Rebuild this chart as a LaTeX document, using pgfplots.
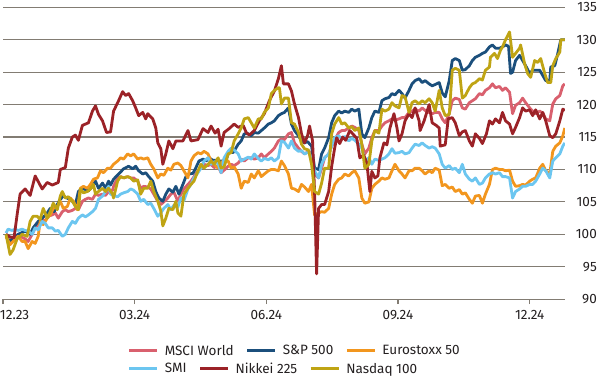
\documentclass[border=0pt]{standalone}
\usepackage{pgfplots}
\pgfplotsset{compat=1.18}
\usepackage{fontspec}
\setmainfont{Fira Sans}
\definecolor{cMSCI}{HTML}{D9606E}
\definecolor{cSP}{HTML}{1B4F7C}
\definecolor{cEuro}{HTML}{F2961E}
\definecolor{cSMI}{HTML}{6CC6F0}
\definecolor{cNik}{HTML}{9B2227}
\definecolor{cNas}{HTML}{BFA414}
\definecolor{gridc}{HTML}{827C73}
\definecolor{txt}{HTML}{231F20}
\pgfplotsset{
  legrow/.style={
    scale only axis, width=559bp, height=290.4bp, hide axis,
    xmin=3, xmax=562, ymin=90, ymax=135,
    legend columns=-1, legend cell align=left,
    legend image code/.code={\draw[##1, line width=2.8bp] (0bp,0bp) -- (28bp,0bp);},
    legend style={draw=none, fill=none, inner sep=0pt, text=txt,
      font=\fontsize{13.5}{16}\selectfont,
      /tikz/every odd column/.append style={column sep=6bp},
      /tikz/every even column/.append style={column sep=12bp},
      nodes={inner sep=0pt}},
  },
  ser/.style={line width=2.8bp, no markers, line join=round},
}
\begin{document}
\begin{tikzpicture}
\begin{axis}[name=main,
 scale only axis, width=559bp, height=290.4bp,
 xmin=3, xmax=562, ymin=90, ymax=135,
 axis line style={draw=none},
 ymajorgrids, grid style={gridc, line width=1.1bp},
 ytick={90,95,...,135},
 yticklabel pos=right,
 ytick style={draw=none},
 yticklabel style={anchor=east, xshift=27bp, inner sep=0pt},
 xtick={3,134,265,396,527},
 xticklabels={{\makebox[0pt][l]{\hspace*{-3bp}12.23}},03.24,06.24,09.24,12.24},
 xtick pos=bottom, tick align=outside, major tick length=5bp,
 xtick style={gridc, line width=1.1bp},
 xticklabel style={inner sep=0pt, yshift=-6bp},
 ticklabel style={font=\fontsize{13.5}{16}\selectfont, text=txt},
 /pgf/number format/assume math mode=true,
]
% MSCI World
\addplot[ser, cMSCI] coordinates {(6,99.6)(10,98.9)(15,99.3)(20,99.7)(25,99.3)(28,98.9)(32,100)(35,101)(38,101.5)(42,102.3)(45,102.1)(48,102.8)(52,103)(55,103.3)(58,102.5)(62,103.5)(65,103.8)(68,103.5)(72,103.7)(75,104)(78,103.8)(82,105.1)(85,105.4)(88,105.6)(92,105.4)(95,106.2)(98,106)(102,106.2)(105,106)(108,106.6)(112,106.8)(113,107.4)(117,108.7)(120,108.9)(123,108.7)(127,108.9)(130,108.7)(133,108.7)(137,108.2)(140,107.1)(143,107.4)(147,107.3)(150,107)(153,106.2)(157,105.1)(160,104.6)(163,105)(167,105.6)(170,106.2)(173,106.5)(177,105.1)(180,106.2)(183,107)(187,107.7)(190,108.2)(193,108.9)(197,109.8)(200,110.2)(203,110.8)(207,110.6)(210,110.8)(213,110.3)(217,110.5)(220,109.5)(223,109.9)(227,110.5)(230,110.8)(233,110.6)(237,111)(240,111.6)(243,111.3)(247,111.8)(250,111.8)(253,111.6)(257,111.8)(260,112.4)(263,111.8)(267,112.4)(270,112.8)(273,113.3)(277,114.4)(280,114.7)(283,114.6)(287,115.5)(290,115.7)(293,114.1)(297,113.3)(300,112.8)(303,112.4)(307,112.8)(310,112.4)(313,109.3)(317,108.7)(320,110.2)(323,111.8)(327,112.4)(330,113.6)(333,114.5)(337,115.7)(340,116)(343,116)(347,116.4)(350,116.7)(353,116.5)(357,116)(360,113.9)(363,112.4)(367,113.3)(370,114.9)(373,116)(377,116)(380,116.7)(383,117.2)(387,117.5)(390,117.8)(393,117.6)(397,117.8)(400,118)(403,118)(407,118.8)(410,119)(413,119.3)(417,119)(420,119.5)(423,119.1)(427,118.8)(430,118.6)(433,118.8)(437,118.8)(440,117.8)(443,117.2)(447,118.6)(450,120.6)(453,121)(457,120.8)(460,119.5)(463,119.3)(467,120.3)(470,120.6)(473,120.9)(477,121.7)(480,121.5)(483,122.2)(487,122.6)(490,123.2)(493,122.6)(497,122.8)(500,122.2)(503,122.6)(507,121.9)(510,118.6)(513,119.9)(517,120.3)(520,121)(523,120.3)(527,119.5)(530,119)(533,118.6)(537,119)(540,118.7)(543,117.8)(547,117.5)(550,120.1)(553,120.9)(557,121.4)(560,122.9)(562,123.2)};
% S&P 500
\addplot[ser, cSP] coordinates {(6,100)(9,98.9)(12,99.3)(18,100)(25,100.5)(30,100)(33,101)(38,102)(42,102.5)(47,103.3)(50,104)(54,103.5)(57,104.6)(60,105.4)(63,105.9)(68,105.5)(72,105.1)(75,104.6)(78,106.6)(82,107.1)(85,106.9)(88,106.7)(92,107.4)(95,108.2)(98,107.1)(102,107.9)(105,107.1)(108,108.2)(110,107.6)(113,108.5)(118,109.3)(123,110.1)(128,110.5)(132,110.1)(135,110.5)(138,109.8)(142,109.3)(145,109.5)(148,108.9)(152,108.2)(155,106.6)(158,105.6)(162,105.1)(165,106.2)(168,107)(172,106.5)(175,107.4)(178,106.2)(182,107.7)(185,108.9)(188,109.3)(192,109.4)(195,110.3)(198,111.3)(202,111.6)(205,111.3)(208,111.8)(212,111.4)(215,111.4)(218,111.3)(222,111.3)(225,111.5)(228,112.8)(232,112.6)(237,113.9)(240,114.4)(243,115.5)(247,115.5)(250,115.2)(253,115.7)(257,115.6)(260,116)(263,116.4)(267,117)(270,117.2)(273,117.5)(277,118.3)(280,118.6)(283,118.8)(287,119.5)(290,117)(293,116)(297,115.2)(300,114.4)(303,114.1)(306,114.3)(310,113.6)(313,110.2)(317,110)(320,112.4)(323,113.3)(327,114.9)(330,117.2)(333,118.3)(337,119)(340,118.7)(343,119)(347,118.8)(350,119.3)(353,119)(357,119.3)(360,115.5)(363,114.9)(367,116.4)(370,118)(373,119)(377,118.8)(380,120.6)(383,120.9)(387,121.1)(390,121.7)(393,121.5)(397,122.2)(400,121.7)(403,121)(407,122.2)(410,123.2)(413,123.7)(417,124)(420,123.4)(423,123.7)(427,123.2)(430,122.9)(433,123.1)(437,123.4)(440,121.8)(443,121.2)(447,123.7)(450,126.8)(453,127.1)(457,126.8)(460,125.3)(463,125.4)(467,126)(470,126.8)(473,127.3)(477,127.6)(480,127.9)(483,128.1)(487,128.9)(490,129.2)(493,128.7)(497,128.7)(500,128.9)(503,129.2)(506,129)(508,124.8)(510,125)(513,126.8)(517,127.6)(520,126.8)(523,126)(527,124.8)(530,125.3)(533,125.3)(537,125.3)(540,124.5)(543,123.7)(547,123.7)(548,125.8)(552,126)(555,127.9)(558,130)(562,130)};
% Eurostoxx 50
\addplot[ser, cEuro] coordinates {(6,99.7)(10,98.4)(13,98.9)(18,99.7)(22,98.9)(25,98.9)(28,97.8)(32,98.9)(35,98.6)(38,99.7)(40,102)(43,101.5)(47,102.5)(50,103)(53,104)(57,104.3)(60,105.1)(63,104)(67,104.3)(70,105.6)(73,105.1)(77,103.8)(80,107.1)(83,107.4)(87,107.1)(90,107.7)(93,108.5)(97,108.7)(100,109.8)(103,109.5)(107,110.2)(110,110.2)(113,110.8)(117,111.3)(120,111.8)(123,111.6)(127,112.4)(130,112.1)(133,112.4)(137,111.6)(140,111.8)(143,111.6)(147,111.8)(150,110.8)(153,110.1)(157,108.7)(160,109.3)(163,109.1)(167,110.2)(170,109.9)(173,110.8)(177,111)(180,110.6)(183,109.8)(187,108.7)(190,111.3)(193,112.1)(197,112.6)(200,112.4)(203,112.8)(207,112.4)(210,111.3)(213,110.8)(217,110.2)(220,110.9)(223,111.6)(227,111.3)(230,110.2)(233,110.4)(237,109.3)(240,107.1)(243,108.2)(247,108)(250,109.3)(253,108.7)(257,109.8)(260,108.9)(263,109.3)(267,109.8)(270,110)(273,110)(277,109.8)(280,111.3)(283,110.6)(287,109.3)(290,107.1)(293,107)(297,106.6)(300,107.7)(303,107.3)(307,106.6)(310,107.7)(313,103)(317,103.3)(320,103.5)(323,103.4)(327,104)(330,106.2)(333,107.7)(337,108.5)(340,108.7)(343,109.3)(347,109)(350,109.5)(353,109.8)(357,108.7)(360,105.6)(363,104.8)(367,105)(370,107.1)(373,107.7)(377,108.2)(380,108.7)(383,108.5)(387,108.7)(390,109.8)(393,110.8)(397,109.8)(400,109.3)(403,108.7)(407,109.8)(410,109.8)(413,110.2)(417,110.2)(420,109.8)(423,109.3)(427,109.8)(430,109.5)(433,110.2)(437,109.9)(440,107.5)(443,107.7)(447,107.1)(450,107.3)(453,106.6)(457,106.9)(460,106.2)(463,106.4)(467,105.4)(470,104.8)(473,105.9)(477,106)(480,104.8)(483,106.2)(487,107.7)(490,110)(493,110.2)(497,110)(500,110)(503,109.8)(507,109.9)(510,108.2)(513,107.4)(517,107.5)(520,107.7)(523,107.6)(527,108.2)(530,108.5)(533,108.7)(537,110.2)(540,110.8)(543,109.8)(547,109.3)(550,112.8)(553,113.6)(557,114.1)(560,115.2)(562,116.4)};
% SMI
\addplot[ser, cSMI] coordinates {(6,100.2)(8,100.8)(12,100.6)(15,100.8)(18,100.6)(22,100.8)(25,100.6)(28,100.5)(32,100)(35,101)(38,100.7)(42,102)(45,101.7)(48,101)(52,101)(55,100.5)(58,100.6)(62,99.7)(65,100)(68,101)(72,102)(75,101.7)(78,102.5)(82,103)(85,102.7)(88,103)(92,103.5)(95,104)(98,105.4)(102,105.9)(105,106.6)(108,107.4)(110,106.2)(113,106)(117,105.8)(120,106.2)(123,106.4)(127,106.6)(130,107)(133,106.8)(137,106.2)(140,105.1)(143,105.4)(147,104.6)(150,104.8)(153,104)(157,102.8)(160,103.3)(163,104)(167,104.6)(170,103.8)(173,104.5)(177,104.2)(180,105.6)(183,105.2)(187,107)(190,107.7)(193,108.7)(197,109.5)(200,110.2)(203,111.3)(207,111.8)(210,110.8)(213,111.2)(217,110.9)(220,109.5)(223,111.8)(227,112.8)(230,113.3)(233,113)(237,112.4)(240,111.3)(243,111.6)(247,111.9)(250,111.6)(253,112.4)(257,111.7)(260,111.3)(263,111.7)(267,111.5)(270,111.8)(273,111.3)(277,111.8)(280,114.4)(283,114.2)(287,113.3)(290,114.4)(293,113.3)(297,112.8)(300,112.9)(303,112.4)(307,112.7)(310,111.8)(313,109.8)(317,108.7)(320,110.8)(323,111.8)(327,112.4)(330,113.6)(333,114.9)(337,115.2)(340,114.7)(343,115.1)(347,114.4)(350,114.8)(353,114.5)(357,113.9)(360,113.3)(363,111.3)(367,111.8)(370,110.8)(373,111.6)(377,111.4)(380,111.6)(383,111.8)(387,112.4)(390,113.2)(393,112.5)(397,112.6)(400,112.8)(403,112.4)(407,112.6)(410,113.3)(413,113.9)(417,113.7)(420,114.1)(423,113.7)(427,113.3)(430,113.5)(433,113.3)(437,112.4)(440,110.8)(443,110.2)(447,110.6)(450,110)(453,110.2)(457,109.5)(460,110.8)(463,109.3)(467,108.5)(470,108.2)(473,108.7)(477,107.7)(480,107.9)(483,108.7)(487,109.3)(490,109.5)(493,109.3)(497,109.5)(500,108.9)(503,108.9)(507,108.7)(510,105.6)(513,106.6)(517,107)(520,107.4)(523,107.4)(527,107.7)(530,107.7)(533,108.2)(537,109.3)(540,110.2)(543,109.8)(547,108.7)(550,111.3)(553,111.8)(557,112.4)(560,113.6)(562,114.1)};
% Nikkei 225
\addplot[ser, cNik] coordinates {(6,100)(10,99.6)(14,99.5)(17,103)(20,106.2)(25,107)(30,106)(35,109)(42,107)(47,108)(52,107.6)(58,108)(60,110)(65,110.3)(68,113.3)(72,115)(75,115.3)(78,114.5)(82,116.8)(88,117.2)(92,119)(95,119.8)(98,118.5)(102,117.5)(106,115.7)(110,115.8)(113,119)(118,120.6)(122,122)(125,121.4)(128,121.7)(132,120.6)(135,119.5)(138,118.3)(142,118.8)(145,117.8)(147,118.6)(152,117.8)(155,116.4)(157,114.1)(160,113.2)(162,110.8)(165,112.4)(168,114.4)(172,113.2)(175,114.4)(182,114.4)(187,116)(190,114.4)(197,114.6)(202,116.3)(207,115.7)(210,116.7)(214,115.6)(217,116.2)(220,113.6)(223,115.7)(228,116.3)(233,117)(237,116.5)(242,116.8)(245,115.7)(248,115.3)(253,116)(258,117.5)(263,118.6)(268,120.6)(273,122.1)(277,124)(280,126)(282,123.2)(287,123.2)(290,122.1)(293,120.1)(297,118)(300,115.5)(303,114.1)(306,115.2)(308,116.7)(311,114.4)(313,106.6)(315,93.9)(317,104)(320,104.6)(323,104.6)(327,106.6)(330,110.5)(333,113.3)(335,114.9)(338,114)(341,115)(344,114.5)(348,116)(351,115.5)(355,114.8)(358,111.8)(362,112.2)(365,111)(368,106.6)(370,109.7)(373,108.7)(376,109)(378,111.8)(382,114.1)(385,113.8)(388,116.4)(392,118.6)(395,116.4)(397,114.4)(400,115.5)(403,117.5)(407,118.6)(410,118)(413,119.5)(417,117.5)(418,116)(422,117.5)(425,119)(427,120)(430,117.2)(434,116.8)(437,116.4)(438,113.6)(443,113.8)(446,117.8)(450,118)(453,117.2)(457,115.2)(460,115.8)(463,116)(467,114.4)(470,113.6)(473,115.5)(477,114.8)(480,114)(484,115.5)(487,117.5)(490,117)(493,117.8)(497,117.2)(500,118.8)(503,117.5)(507,117)(510,115.5)(513,116.5)(517,118)(520,119.5)(523,119)(527,119.2)(530,118.3)(533,119.2)(537,117.8)(540,118.8)(543,117.5)(547,115.2)(550,114.9)(553,115.5)(557,117.5)(560,119.3)(562,119.1)};
% Nasdaq 100
\addplot[ser, cNas] coordinates {(6,100)(10,96.9)(13,97.6)(17,99.3)(22,100)(27,99.7)(30,102)(33,102.8)(37,102.8)(40,102.3)(43,104)(47,102.5)(50,103.5)(53,104.8)(57,103.8)(60,105.9)(62,106.6)(65,105.6)(68,105.8)(72,105.1)(75,104.3)(78,103.8)(80,107)(83,106.4)(87,106.6)(90,107)(93,107.7)(95,106.2)(98,106.6)(102,107.1)(105,106.6)(108,107.1)(112,106.2)(113,105.6)(117,108.2)(120,108.9)(123,108.7)(127,108.9)(130,108.7)(133,108.2)(137,108.4)(140,106.2)(143,107.1)(147,107.1)(150,108.2)(153,106.6)(157,105.1)(160,103.6)(162,101.3)(165,102.5)(168,104)(172,103.8)(175,105.1)(177,103.3)(180,102.8)(183,106.2)(187,107.1)(190,107.7)(193,108.2)(197,109.8)(200,110.8)(203,110.2)(207,110.8)(210,111.3)(213,110.8)(217,111.8)(220,110.2)(223,110.4)(227,112.4)(230,112.6)(233,114.4)(237,115.5)(240,116.4)(243,117.8)(247,118)(250,117.2)(253,116.4)(257,117.8)(260,117.8)(263,118.8)(267,119.5)(270,121.7)(273,122.2)(277,122.6)(278,122.6)(280,120.1)(283,121)(287,121)(290,117.2)(293,117)(297,115.7)(300,113.9)(303,113.2)(307,113)(310,110.8)(313,106.6)(317,106.2)(320,107.9)(323,110.2)(327,110.2)(330,115.5)(333,117)(337,118)(340,117)(343,117.2)(347,116.4)(350,116.6)(353,116)(357,116.4)(360,113.9)(363,110.2)(367,110.8)(370,114.4)(373,116)(377,115.6)(380,119.3)(383,119)(387,119.3)(390,120.3)(393,119.8)(397,119.5)(400,121.4)(403,121.2)(407,118.8)(410,120.3)(413,120.6)(417,120.1)(420,120.6)(423,120.3)(427,120.9)(430,120.3)(433,119)(437,122.2)(440,119.5)(443,118.3)(447,118.5)(450,125.3)(453,125.6)(457,125.3)(460,121)(463,121.4)(467,122.6)(470,123.2)(473,123.4)(477,124)(480,123.8)(483,125.3)(487,125.8)(488,127.3)(492,127.9)(495,127.1)(498,128.4)(500,128.9)(503,130)(507,131.2)(510,127.3)(513,127.9)(517,128.7)(518,129.2)(522,126.3)(525,124.8)(528,124.2)(532,126.8)(535,126.5)(538,127.1)(542,124.8)(545,123.4)(548,123.4)(550,126)(553,127.1)(557,128.1)(558,130)(562,130)};
\end{axis}
\begin{axis}[legrow, legend style={at={(0.2218,-0.1767)}, anchor=west}]
\addlegendimage{cMSCI}\addlegendentry{MSCI World}
\addlegendimage{cSP}\addlegendentry{S\&P 500}
\addlegendimage{cEuro}\addlegendentry{Eurostoxx 50}
\end{axis}
\begin{axis}[legrow, legend style={at={(0.2218,-0.2386)}, anchor=west}]
\addlegendimage{cSMI}\addlegendentry{SMI}
\addlegendimage{cNik}\addlegendentry{Nikkei 225}
\addlegendimage{cNas}\addlegendentry{Nasdaq 100}
\end{axis}
\pgfresetboundingbox
\path[use as bounding box] ([shift={(-3bp,-82.3bp)}]main.south west) rectangle ([shift={(35bp,7.3bp)}]main.north east);
\end{tikzpicture}
\end{document}
